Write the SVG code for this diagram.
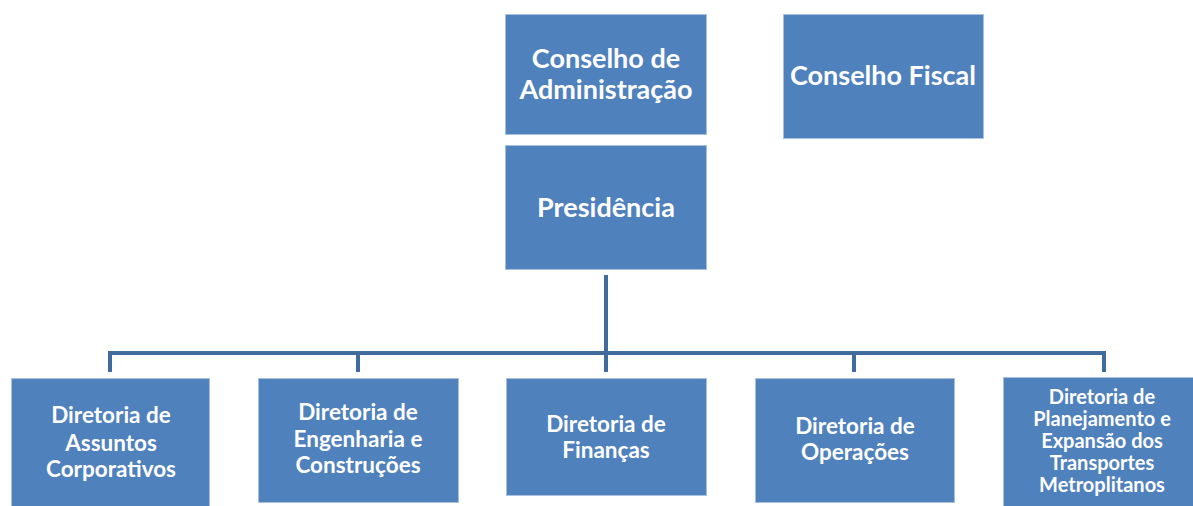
<svg xmlns="http://www.w3.org/2000/svg" width="1193" height="506" viewBox="0 0 1193 506">
<style>
.box{fill:#4F81BD;stroke:#A9C0DE;stroke-width:1}
.t{font-family:Lato,"Liberation Sans",sans-serif;font-weight:bold;fill:#FFFFFF;text-anchor:middle}
.big{font-size:27px}
.mid{font-size:22.5px}
.sm{font-size:20px}
.ln{stroke:#3F6C9C;stroke-width:4;fill:none}
</style>
<rect width="1193" height="506" fill="#FFFFFF"/>
<g id="connectors">
<path class="ln" d="M606 275V353M110 372V353H1104V372M358 353V372M606 353V372M854 353V372"/>
</g>
<g id="conselho-adm">
<rect class="box" x="505.5" y="14.5" width="201" height="120"/>
<text class="t big" x="606" y="68">Conselho de</text>
<text class="t big" x="606" y="99">Administração</text>
</g>
<g id="conselho-fiscal">
<rect class="box" x="783.5" y="14.5" width="200" height="124"/>
<text class="t big" x="883" y="85">Conselho Fiscal</text>
</g>
<g id="presidencia">
<rect class="box" x="505.5" y="145.5" width="201" height="124"/>
<text class="t big" x="606" y="217">Presidência</text>
</g>
<g id="dir-assuntos">
<rect class="box" x="11.5" y="378.5" width="198" height="130"/>
<text class="t mid" x="111" y="423">Diretoria de</text>
<text class="t mid" x="111" y="451">Assuntos</text>
<text class="t mid" x="111" y="477">Corporativos</text>
</g>
<g id="dir-engenharia">
<rect class="box" x="258.5" y="378.5" width="200" height="124"/>
<text class="t mid" x="358" y="420">Diretoria de</text>
<text class="t mid" x="358" y="447">Engenharia e</text>
<text class="t mid" x="358" y="473">Construções</text>
</g>
<g id="dir-financas">
<rect class="box" x="506.5" y="378.5" width="200" height="117"/>
<text class="t mid" x="606" y="432">Diretoria de</text>
<text class="t mid" x="606" y="458">Finanças</text>
</g>
<g id="dir-operacoes">
<rect class="box" x="755.5" y="378.5" width="199" height="124"/>
<text class="t mid" x="855" y="434">Diretoria de</text>
<text class="t mid" x="855" y="460">Operações</text>
</g>
<g id="dir-planejamento">
<rect class="box" x="1003.5" y="377.5" width="198" height="132"/>
<text class="t sm" x="1102" y="404">Diretoria de</text>
<text class="t sm" x="1102" y="426">Planejamento e</text>
<text class="t sm" x="1102" y="448">Expansão dos</text>
<text class="t sm" x="1102" y="470">Transportes</text>
<text class="t sm" x="1102" y="492">Metroplitanos</text>
</g>
</svg>
